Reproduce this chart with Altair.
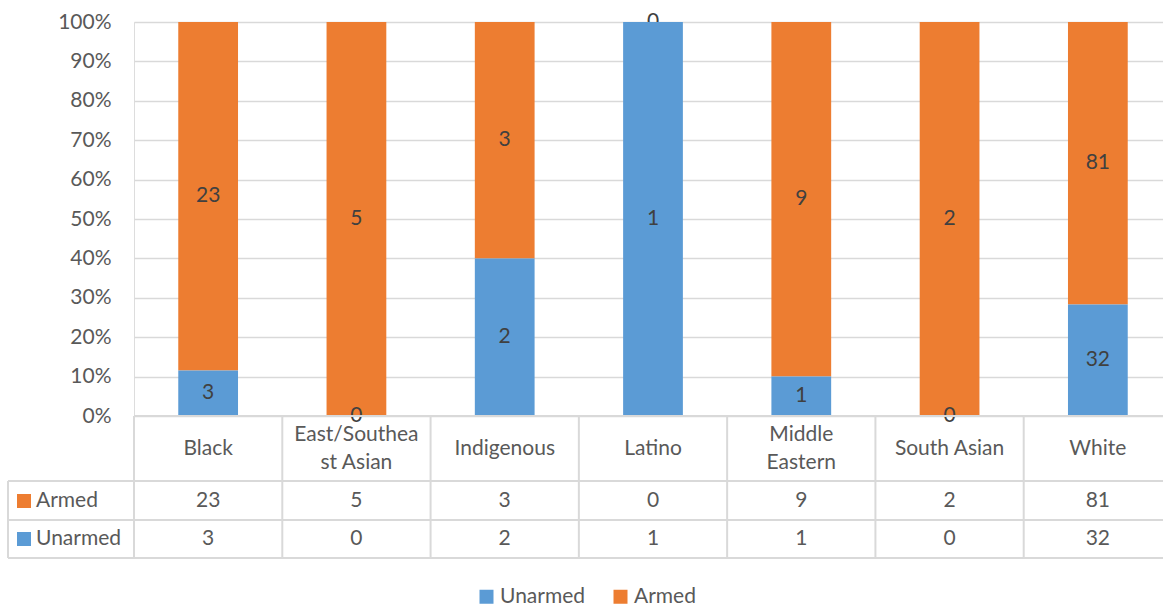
import altair as alt
import pandas as pd

# ---- data -------------------------------------------------------------
categories = ["Black", "East/Southeast Asian", "Indigenous", "Latino",
              "Middle Eastern", "South Asian", "White"]
header_labels = ["Black", "East/Southea\nst Asian", "Indigenous", "Latino",
                 "Middle\nEastern", "South Asian", "White"]
armed = [23, 5, 3, 0, 9, 2, 81]
unarmed = [3, 0, 2, 1, 1, 0, 32]
series = ["Unarmed", "Armed"]
y_ticks = [0, 0.1, 0.2, 0.3, 0.4, 0.5, 0.6, 0.7, 0.8, 0.9, 1.0]

# ---- styling ----------------------------------------------------------
FONT = "Lato"
FS = 21
BLUE = "#5B9BD5"
ORANGE = "#ED7D31"
GRID = "#D9D9D9"
LABEL = "#404040"
AXIS_TEXT = "#595959"

PLOT_W, PLOT_H = 1029, 394
BAND_RANGE = 1038

rows = []
for i, c in enumerate(categories):
    rows.append({"cat": c, "header": header_labels[i], "series": "Unarmed",
                 "count": unarmed[i], "order": 0})
    rows.append({"cat": c, "header": header_labels[i], "series": "Armed",
                 "count": armed[i], "order": 1})
df = pd.DataFrame(rows)

x_scale = alt.Scale(domain=categories, range=[0, BAND_RANGE],
                    paddingInner=0, paddingOuter=0)


def x_at(pos=0.5):
    return alt.X("cat:N", sort=categories, scale=x_scale, axis=None,
                 bandPosition=pos)


color_enc = alt.Color(
    "series:N",
    scale=alt.Scale(domain=series, range=[BLUE, ORANGE]),
    legend=alt.Legend(
        orient="none", direction="horizontal", title=None,
        legendX=342, legendY=564,
        symbolType="square", symbolSize=196, symbolStrokeWidth=0,
        labelFont=FONT, labelFontSize=FS, labelColor=AXIS_TEXT,
        labelOffset=3, columnPadding=24,
    ),
)

base = alt.Chart(df)

stacked = base.transform_stack(
    stack="count", groupby=["cat"], as_=["y0", "y1"],
    offset="normalize", sort=[alt.SortField("order", order="ascending")],
).transform_calculate(mid="(datum.y0 + datum.y1) / 2")

y_axis = alt.Axis(values=y_ticks, format=".0%", ticks=False, domain=False,
                  labelOverlap=False,
                  labelFont=FONT, labelFontSize=FS, labelColor=AXIS_TEXT,
                  labelPadding=23, gridColor=GRID, gridWidth=1.3, title=None)
y_scale = alt.Scale(domain=[0, 1], nice=False)


def bars(name):
    return stacked.transform_filter(alt.datum.series == name).mark_bar(
        width={"band": 0.403}
    ).encode(
        x=x_at(),
        y=alt.Y("y0:Q", scale=y_scale, axis=y_axis),
        y2="y1:Q",
        color=color_enc,
    )


def bar_labels(name):
    return stacked.transform_filter(alt.datum.series == name).mark_text(
        font=FONT, fontSize=FS, color=LABEL, baseline="middle", align="center"
    ).encode(
        x=x_at(),
        y=alt.Y("mid:Q", scale=y_scale, axis=y_axis),
        text="count:Q",
    )


# ---- data table under the plot ----------------------------------------
TABLE_TOP = PLOT_H          # 0% line
ROW1 = PLOT_H + 65          # bottom of header row
ROW2 = PLOT_H + 104         # bottom of "Armed" row
ROW3 = PLOT_H + 142         # bottom of "Unarmed" row
LEFT = -126                 # left edge of the series column

line_style = dict(color=GRID, strokeWidth=2)

h_rules = alt.layer(
    base.mark_rule(**line_style).encode(
        x=alt.value(0), x2=alt.value(BAND_RANGE), y=alt.value(TABLE_TOP)),
    *[base.mark_rule(**line_style).encode(
        x=alt.value(LEFT), x2=alt.value(BAND_RANGE), y=alt.value(yy))
      for yy in (ROW1, ROW2, ROW3)],
)

v_rules = base.transform_filter(alt.datum.series == "Armed").mark_rule(
    **line_style
).encode(x=x_at(0), y=alt.value(TABLE_TOP), y2=alt.value(ROW3))
left_rule = base.mark_rule(**line_style).encode(
    x=alt.value(LEFT), y=alt.value(ROW1), y2=alt.value(ROW3))

table_text = dict(font=FONT, fontSize=FS, color=AXIS_TEXT,
                  baseline="middle", align="center")

header_src = base.transform_filter(alt.datum.series == "Armed")
header_one = header_src.transform_filter(
    "indexof(datum.header, '\\n') < 0"
).mark_text(**table_text).encode(
    x=x_at(), y=alt.value(PLOT_H + 33), text="header:N")
header_two = header_src.transform_filter(
    "indexof(datum.header, '\\n') >= 0"
).mark_text(lineBreak="\n", lineHeight=28, **table_text).encode(
    x=x_at(), y=alt.value(PLOT_H + 19), text="header:N")


def value_row(name, ypx):
    return base.transform_filter(alt.datum.series == name).mark_text(
        **table_text
    ).encode(x=x_at(), y=alt.value(ypx), text="count:Q")


def row_key(name, ypx):
    one = base.transform_filter(alt.datum.series == name).transform_aggregate(
        n="count()", groupby=["series"])
    sq = one.mark_square(size=196, opacity=1).encode(
        x=alt.value(LEFT + 16), y=alt.value(ypx), color=color_enc)
    tx = one.mark_text(font=FONT, fontSize=FS, color=AXIS_TEXT,
                       baseline="middle", align="left").encode(
        x=alt.value(LEFT + 28), y=alt.value(ypx), text="series:N")
    return sq + tx


chart = alt.layer(
    bars("Armed"), bar_labels("Armed"),
    bars("Unarmed"), bar_labels("Unarmed"),
    h_rules, v_rules, left_rule, header_one, header_two,
    value_row("Armed", PLOT_H + 85), value_row("Unarmed", PLOT_H + 123),
    row_key("Armed", PLOT_H + 85), row_key("Unarmed", PLOT_H + 123),
).properties(
    width=PLOT_W, height=PLOT_H,
    autosize=alt.AutoSizeParams(type="none"),
    padding={"left": 134, "top": 22, "right": 0, "bottom": 191},
).configure_view(stroke=None).configure(background="white")

chart.save("out.html", embed_options={"renderer": "svg", "actions": False})
